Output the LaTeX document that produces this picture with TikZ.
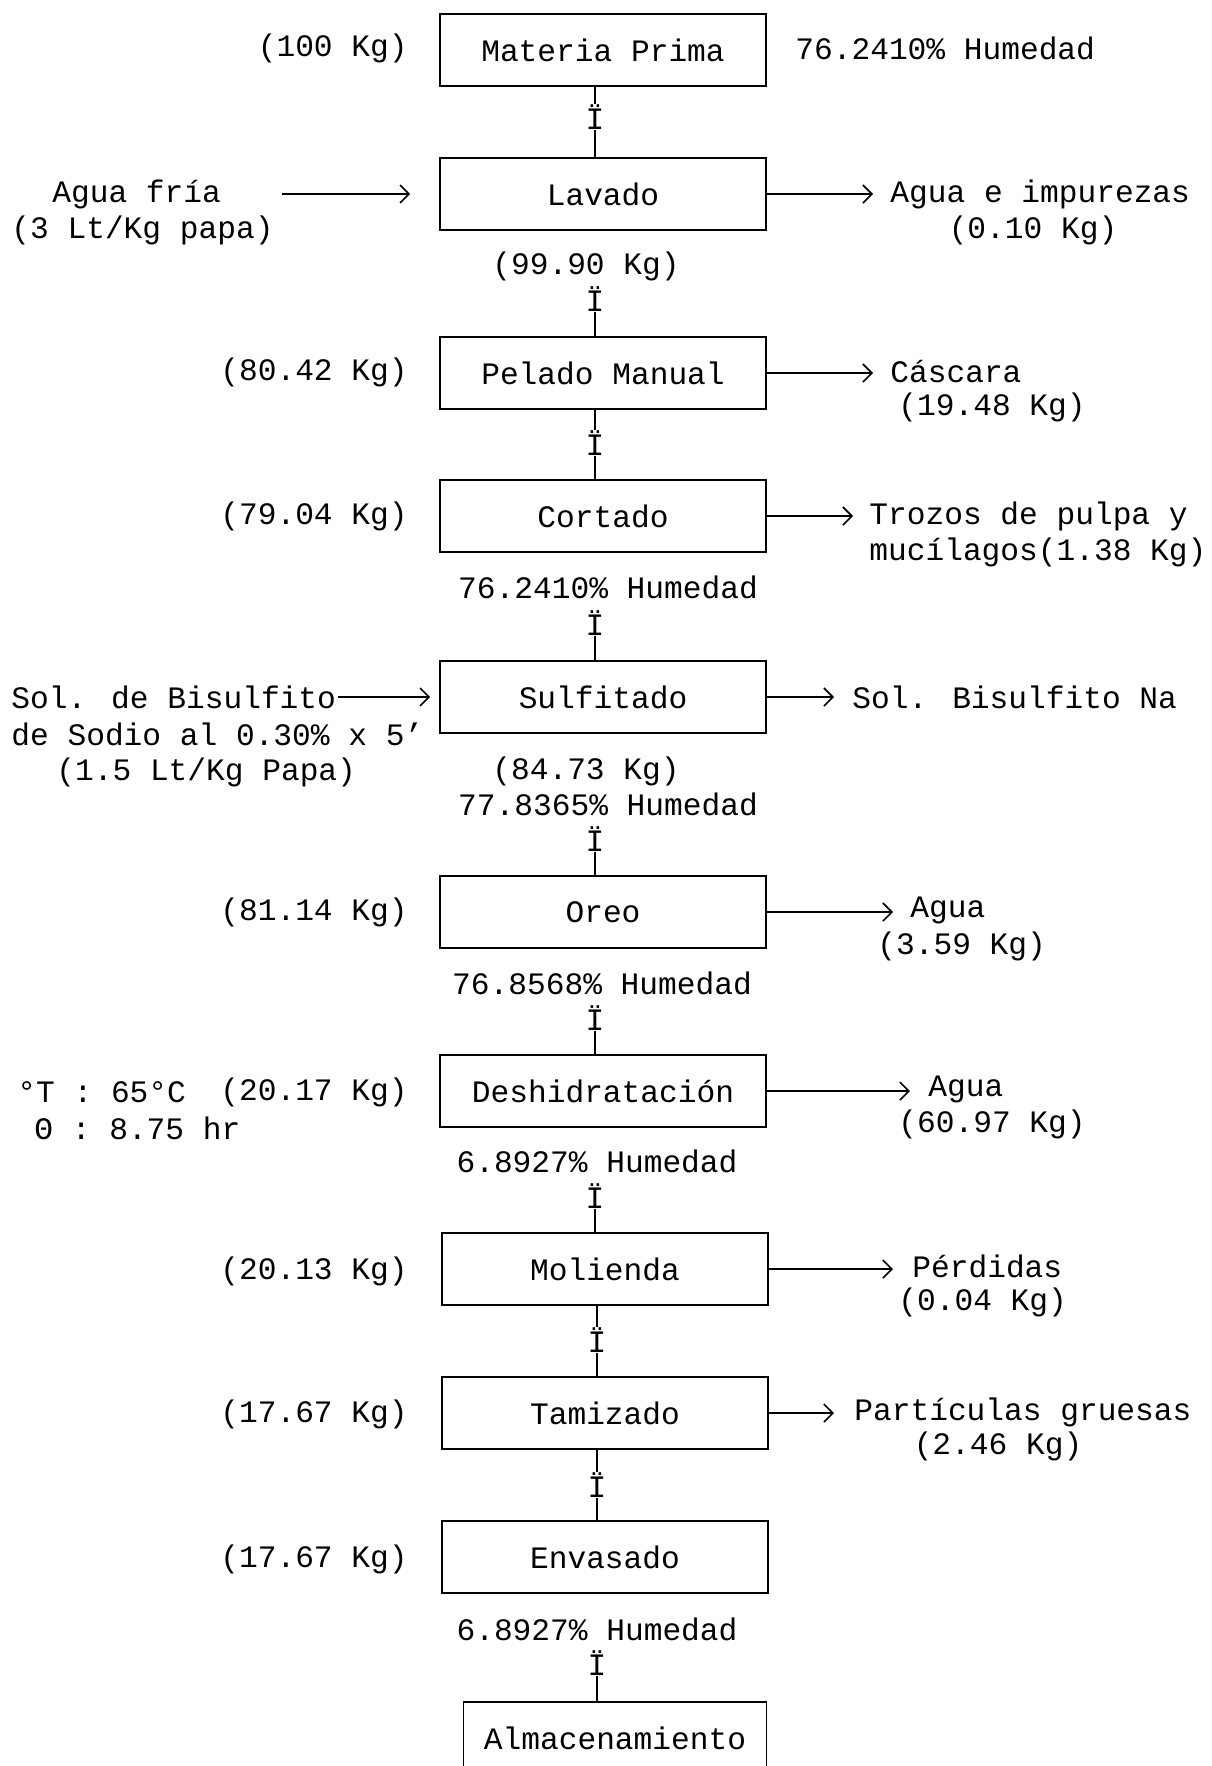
\documentclass[tikz,border=0pt]{standalone}
\usepackage{fontspec}
\setmainfont{Liberation Mono}
\usetikzlibrary{arrows.meta}

\begin{document}
\begin{tikzpicture}[x=0.5pt,y=-0.5pt,font=\fontsize{15.6}{19}\selectfont]
\useasboundingbox (0,0) rectangle (1211,1766);
% process steps
\begin{scope}[every node/.style={draw,thick,minimum width=163pt,minimum height=36pt,inner sep=0pt}]
    \node (Materia) at (603, 50) {Materia Prima};
    \node (Lavado) at (603, 194) {Lavado};
    \node (Pelado) at (603, 373) {Pelado Manual};
    \node (Cortado) at (603, 516) {Cortado};
    \node (Sulfitado) at (603, 697) {Sulfitado};
    \node (Oreo) at (603, 912) {Oreo};
    \node (Deshid) at (603, 1091) {Deshidratación};
    \node (Molienda) at (605, 1269) {Molienda};
    \node (Tamizado) at (605, 1413) {Tamizado};
    \node (Envasado) at (605, 1557) {Envasado};
    \node (Almacen) at (615, 1738) [minimum width=151.5pt] {Almacenamiento};
\end{scope}
% masses and moisture
\begin{scope}[every node/.style={inner sep=0pt}]
    \node [anchor=east] (kMateria) at (408, 48) {(100 Kg)};
    \node [anchor=west] (hMateria) at (795, 48) {76.2410\% Humedad};
    \node (kLavado) at (586, 266) {(99.90 Kg)};
    \node [anchor=east] (kPelado) at (408, 372) {(80.42 Kg)};
    \node [anchor=east] (kCortado) at (408, 516) {(79.04 Kg)};
    \node (hCortado) at (608, 587) {76.2410\% Humedad};
    \node (kSulfitado) at (586, 771) {(84.73 Kg)};
    \node (hSulfitado) at (608, 804) {77.8365\% Humedad};
    \node [anchor=east] (kOreo) at (408, 912) {(81.14 Kg)};
    \node (hOreo) at (602, 983) {76.8568\% Humedad};
    \node [anchor=east] (kDeshid) at (408, 1092) {(20.17 Kg)};
    \node [anchor=west] (tDeshid) at (17, 1092) {°T : 65°C};
    \node [anchor=west] (sDeshid) at (34, 1128) {Θ : 8.75 hr};
    \node (hDeshid) at (597, 1161) {6.8927\% Humedad};
    \node [anchor=east] (kMolienda) at (408, 1271) {(20.13 Kg)};
    \node [anchor=east] (kTamizado) at (408, 1414) {(17.67 Kg)};
    \node [anchor=east] (kEnvasado) at (408, 1559) {(17.67 Kg)};
    \node (hEnvasado) at (597, 1629) {6.8927\% Humedad};
\end{scope}
% inputs and outputs
\begin{scope}[every node/.style={inner sep=0pt,anchor=west}]
    \node (aguaIn1) at (52, 194) {Agua fría};
    \node (aguaIn2) at (11, 230) {(3 Lt/Kg papa)};
    \node (aguaOut1) at (890, 194) {Agua e impurezas};
    \node [anchor=center] (aguaOut2) at (1033, 230) {(0.10 Kg)};
    \node (cascara1) at (890, 372) {Cáscara};
    \node (cascara2) at (898, 407) {(19.48 Kg)};
    \node (trozos1) at (869, 516) {Trozos de pulpa y};
    \node (trozos2) at (869, 552) {mucílagos(1.38 Kg)};
    \node (solIn1) at (11, 697) {Sol. de Bisulfito};
    \node (solIn2) at (11, 734) {de Sodio al 0.30\% x 5'};
    \node (solIn3) at (56, 772) {(1.5 Lt/Kg Papa)};
    \node (solOut) at (852, 697) {Sol. Bisulfito Na};
    \node (oreoOut1) at (910, 910) {Agua};
    \node (oreoOut2) at (877, 946) {(3.59 Kg)};
    \node (deshOut1) at (928, 1089) {Agua};
    \node (deshOut2) at (898, 1124) {(60.97 Kg)};
    \node (perd1) at (912, 1266) {Pérdidas};
    \node (perd2) at (898, 1302) {(0.04 Kg)};
    \node (part1) at (854, 1412) {Partículas gruesas};
    \node [anchor=center] (part2) at (998, 1446) {(2.46 Kg)};
\end{scope}
% free ends of the side arrows
\coordinate (cAguaIn) at (282, 194);
\coordinate (cSolIn) at (338, 697);
\coordinate (cLavado) at (873, 194);
\coordinate (cPelado) at (873, 373);
\coordinate (cCortado) at (853, 516);
\coordinate (cSulfitado) at (834, 697);
\coordinate (cOreo) at (893, 912);
\coordinate (cDeshid) at (910, 1091);
\coordinate (cMolienda) at (893, 1269);
\coordinate (cTamizado) at (834, 1413);
\begin{scope}[>={Straight Barb[length=4.5pt,width=9pt]},
              side_edge/.style={draw=black,line width=0.8pt}]
    \path [->] (cAguaIn) edge [side_edge,shorten >=14.5pt] (Lavado);
    \path [->] (cSolIn) edge [side_edge,shorten >=4.5pt] (Sulfitado);
    \path [->] (Lavado) edge [side_edge] (cLavado);
    \path [->] (Pelado) edge [side_edge] (cPelado);
    \path [->] (Cortado) edge [side_edge] (cCortado);
    \path [->] (Sulfitado) edge [side_edge] (cSulfitado);
    \path [->] (Oreo) edge [side_edge] (cOreo);
    \path [->] (Deshid) edge [side_edge] (cDeshid);
    \path [->] (Molienda) edge [side_edge] (cMolienda);
    \path [->] (Tamizado) edge [side_edge] (cTamizado);
\end{scope}
% flow marks between steps
\begin{scope}[every node/.style={inner sep=0pt}]
    \node (d1) at (595, 117) {Ï};
    \node (d2) at (595, 299) {Ï};
    \node (d3) at (595, 443) {Ï};
    \node (d4) at (595, 623) {Ï};
    \node (d5) at (595, 839) {Ï};
    \node (d6) at (595, 1018) {Ï};
    \node (d7) at (595, 1196) {Ï};
    \node (d8) at (597, 1340) {Ï};
    \node (d9) at (597, 1485) {Ï};
    \node (d10) at (597, 1663) {Ï};
\end{scope}
\begin{scope}[line width=0.7pt]
    \draw (Materia.south -| d1) -- (d1.north);
    \draw (d1.south) -- (Lavado.north -| d1);
    \draw (d2.south) -- (Pelado.north -| d2);
    \draw (Pelado.south -| d3) -- (d3.north);
    \draw (d3.south) -- (Cortado.north -| d3);
    \draw (d4.south) -- (Sulfitado.north -| d4);
    \draw (d5.south) -- (Oreo.north -| d5);
    \draw (d6.south) -- (Deshid.north -| d6);
    \draw (d7.south) -- (Molienda.north -| d7);
    \draw (Molienda.south -| d8) -- (d8.north);
    \draw (d8.south) -- (Tamizado.north -| d8);
    \draw (Tamizado.south -| d9) -- (d9.north);
    \draw (d9.south) -- (Envasado.north -| d9);
    \draw (d10.south) -- (Almacen.north -| d10);
\end{scope}
\end{tikzpicture}
\end{document}
